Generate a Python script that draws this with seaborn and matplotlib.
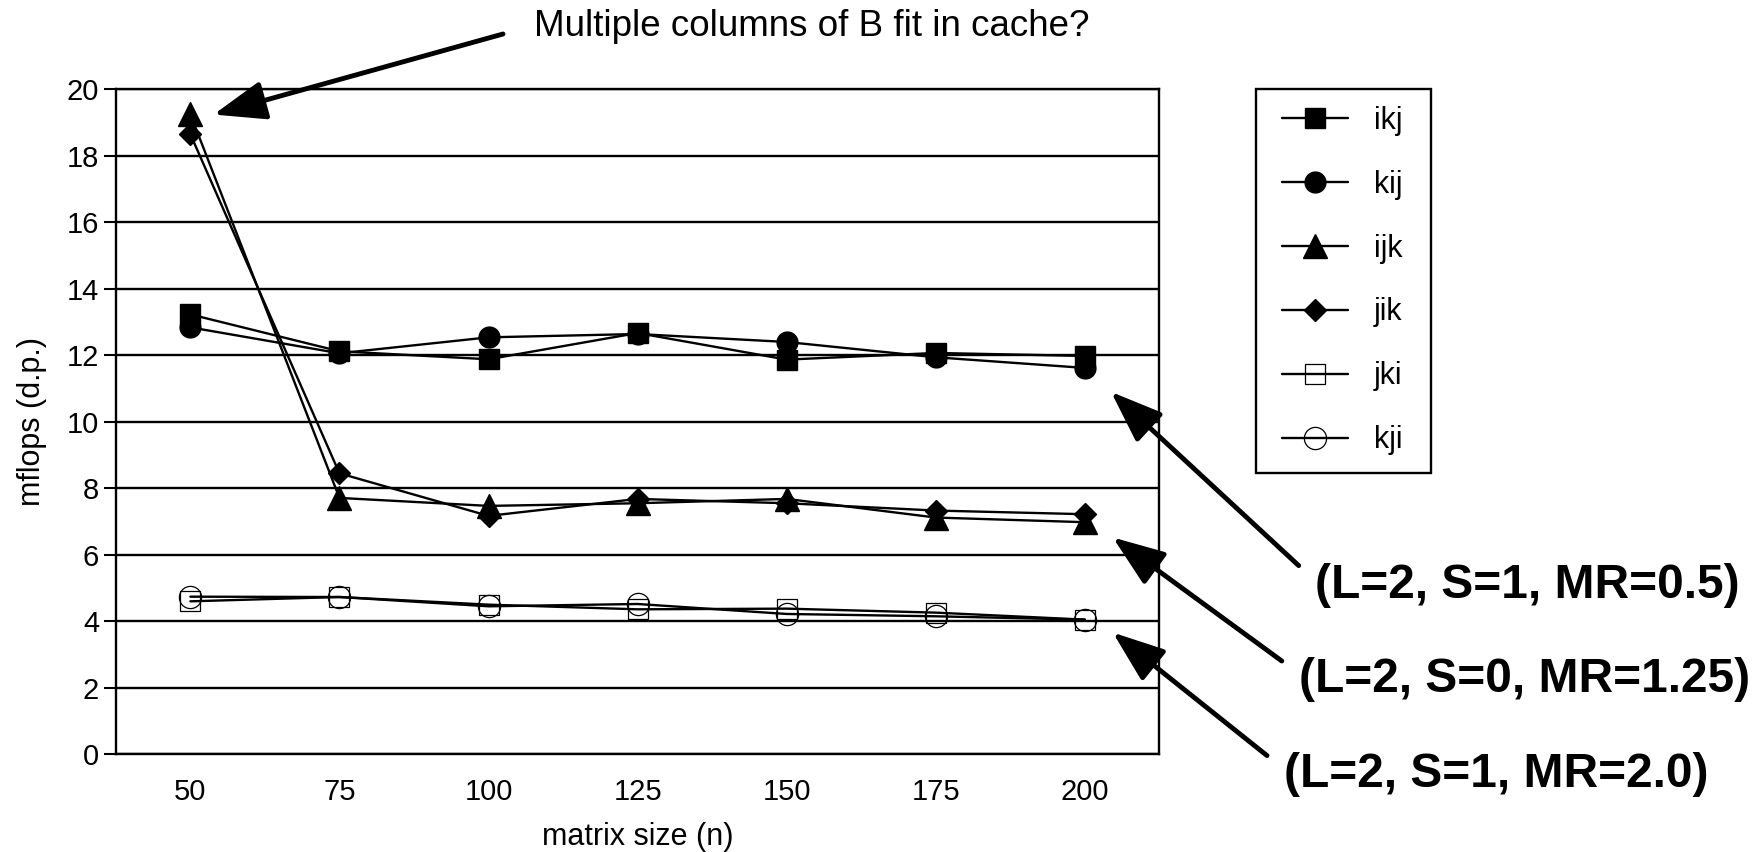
import matplotlib
matplotlib.use("Agg")
import matplotlib.pyplot as plt
from matplotlib.patches import Rectangle
import seaborn as sns
import numpy as np
import pandas as pd

# ---- data ----
sizes = [50, 75, 100, 125, 150, 175, 200]
ikj = [13.23, 12.12, 11.88, 12.67, 11.87, 12.07, 11.98]
kij = [12.84, 12.06, 12.54, 12.64, 12.40, 11.94, 11.62]
ijk = [19.25, 7.71, 7.47, 7.55, 7.68, 7.12, 6.98]
jik = [18.65, 8.45, 7.17, 7.68, 7.55, 7.33, 7.22]
jki = [4.60, 4.73, 4.50, 4.36, 4.38, 4.26, 4.05]
kji = [4.74, 4.73, 4.45, 4.52, 4.22, 4.15, 4.05]
series_names = ["ikj", "kij", "ijk", "jik", "jki", "kji"]
y_ticks = [0, 2, 4, 6, 8, 10, 12, 14, 16, 18, 20]
title_note = "Multiple columns of B fit in cache?"
group_notes = ["(L=2, S=1, MR=0.5)", "(L=2, S=0, MR=1.25)", "(L=2, S=1, MR=2.0)"]

sns.set_style("white")
plt.rcParams["font.family"] = ["Liberation Sans", "DejaVu Sans"]
for key in ["text.color", "axes.labelcolor", "xtick.color", "ytick.color"]:
    plt.rcParams[key] = "black"

df = pd.DataFrame({"n": sizes * 6,
                   "mflops": ikj + kij + ijk + jik + jki + kji,
                   "order": np.repeat(series_names, len(sizes))})

styles = {
    "ikj": dict(marker="s", markersize=15, mfc="black", mew=1.0),
    "kij": dict(marker="o", markersize=15, mfc="black", mew=1.0),
    "ijk": dict(marker="^", markersize=17, mfc="black", mew=1.0),
    "jik": dict(marker="D", markersize=11.5, mfc="black", mew=1.0),
    "jki": dict(marker="s", markersize=15, mfc="none", mew=0.9),
    "kji": dict(marker="o", markersize=16, mfc="none", mew=0.9),
}

fig = plt.figure(figsize=(17.63, 8.52), dpi=100)
ax = fig.add_axes([0.0657, 0.1147, 0.5919, 0.7805])

for name in series_names:
    sub = df[df["order"] == name]
    sns.lineplot(data=sub, x="n", y="mflops", ax=ax, color="black",
                 linewidth=1.7, mec="black", label=name, **styles[name])

ax.set_xlim(37.5, 212.5)
ax.set_ylim(0, 20)
ax.set_xticks(sizes)
ax.set_xticklabels([str(s) for s in sizes])
ax.set_yticks(y_ticks)
ax.yaxis.grid(True, color="black", linewidth=1.7)
ax.xaxis.grid(False)
for sp in ax.spines.values():
    sp.set_color("black")
    sp.set_linewidth(1.7)
ax.tick_params(axis="x", length=0, pad=17, labelsize=21)
ax.tick_params(axis="y", length=9, width=1.5, color="black", pad=3, labelsize=21,
               direction="out", left=True)
ax.set_xlabel("matrix size (n)", fontsize=22)
ax.set_ylabel("mflops (d.p.)", fontsize=22)
ax.yaxis.set_label_coords(-0.066, 0.5)
ax.xaxis.set_label_coords(0.5, -0.102)

# legend: frame drawn as a box, entries placed inside
ax.get_legend().remove()
handles, labels = ax.get_legend_handles_labels()
fig.patches.append(Rectangle((1256 / 1763, 1 - 473 / 852), 175 / 1763, 384 / 852,
                             transform=fig.transFigure, fill=False,
                             edgecolor="black", linewidth=1.7, zorder=5))
fig.legend(handles, labels, loc="center left", bbox_to_anchor=(1282 / 1763, 1 - 280.5 / 852),
           frameon=False, fontsize=22, borderaxespad=0, borderpad=0,
           labelspacing=1.11, handlelength=2.15, handletextpad=0.85)

# annotations
arrow_kw = dict(arrowstyle="-|>,head_length=1.6,head_width=0.6", mutation_scale=20,
                lw=3.5, color="black", shrinkA=0, shrinkB=0)
ax.annotate("", xy=(53.9, 19.24), xycoords="data",
            xytext=(503 / 1763, 1 - 34 / 852), textcoords="figure fraction",
            arrowprops=arrow_kw)
fig.text(812 / 1763, 1 - 27 / 852, title_note, ha="center", va="center", fontsize=26.5)

tips = [(204.4, 10.9), (204.7, 6.52), (204.7, 3.66)]
tails = [(1298.7, 565.6), (1281.8, 661.0), (1267.0, 755.6)]
text_pos = [(1527.5, 586.0), (1524.7, 680.0), (1496.5, 774.7)]
for tip, tail, tp, txt in zip(tips, tails, text_pos, group_notes):
    ax.annotate("", xy=tip, xycoords="data",
                xytext=(tail[0] / 1763, 1 - tail[1] / 852), textcoords="figure fraction",
                arrowprops=arrow_kw)
    fig.text(tp[0] / 1763, 1 - tp[1] / 852, txt, ha="center", va="center",
             fontsize=34.5, fontweight="bold")

fig.savefig("out.png", dpi=100)
